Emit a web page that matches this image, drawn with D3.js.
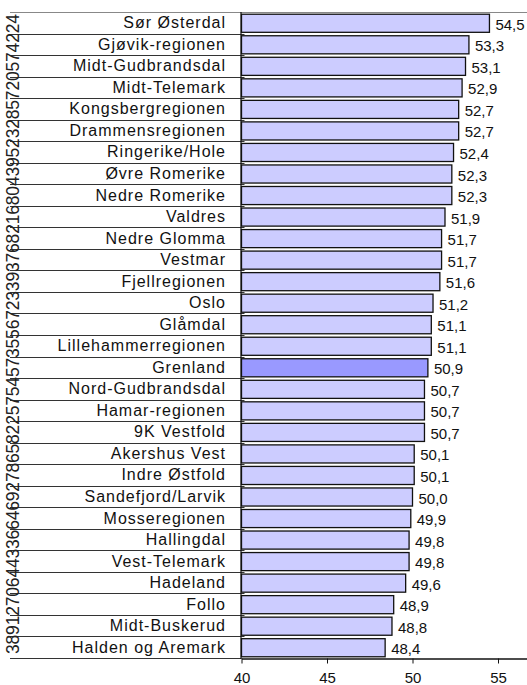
<!DOCTYPE html>
<html>
<head>
<meta charset="utf-8">
<script src="https://cdn.jsdelivr.net/npm/d3@7"></script>
<style>
  html, body { margin: 0; padding: 0; background: #fff; }
  svg { display: block; font-family: "Liberation Sans", Arial, sans-serif; }
</style>
</head>
<body>
<div id="chart"></div>
<script>
const regions = ["Sør Østerdal", "Gjøvik-regionen", "Midt-Gudbrandsdal", "Midt-Telemark",
    "Kongsbergregionen", "Drammensregionen", "Ringerike/Hole", "Øvre Romerike", "Nedre Romerike",
    "Valdres", "Nedre Glomma", "Vestmar", "Fjellregionen", "Oslo", "Glåmdal", "Lillehammerregionen",
    "Grenland", "Nord-Gudbrandsdal", "Hamar-regionen", "9K Vestfold", "Akershus Vest", "Indre Østfold",
    "Sandefjord/Larvik", "Mosseregionen", "Hallingdal", "Vest-Telemark", "Hadeland", "Follo",
    "Midt-Buskerud", "Halden og Aremark"]

const values = [54.5, 53.3, 53.1, 52.9, 52.7, 52.7, 52.4, 52.3, 52.3, 51.9, 51.7, 51.7, 51.6, 51.2,
    51.1, 51.1, 50.9, 50.7, 50.7, 50.7, 50.1, 50.1, 50.0, 49.9, 49.8, 49.8, 49.6, 48.9, 48.8, 48.4]

const highlighted = ["Grenland"]

const xTicks = [40, 45, 50, 55]

// leftover code column, as it reads from top to bottom
const codeColumn = "4224750275823259340861286739332765537545752285687296466334460721983"

const chartW = 527,
    chartH = 685,
    plotTop = 12,
    plotBottom = 658,
    axisX = 241.5,
    labelRight = 226;

const data = regions.map((r, i) => ({ region: r, value: values[i] }))

const svg = d3.select("#chart").append("svg")
    .attr("width", chartW)
    .attr("height", chartH)

const x = d3.scaleLinear().domain([40, 57]).range([axisX, axisX + 17 * 17.1])

const row = d3.scaleBand().domain(regions).range([plotTop, plotBottom]).padding(0)

const y = d3.scaleBand().domain(regions).range([plotTop, plotBottom]).paddingInner(0.16).paddingOuter(0.08)

const fmt = v => d3.format(".1f")(v).replace(".", ",")

// top border line
svg.append("line")
    .attr("x1", 10).attr("x2", chartW)
    .attr("y1", plotTop + 0.5).attr("y2", plotTop + 0.5)
    .attr("stroke", "#888").attr("stroke-width", 1)

// row lines of the label table
svg.selectAll(".rowline").data(regions.slice(1)).enter().append("line")
    .attr("class", "rowline")
    .attr("x1", 10).attr("x2", axisX + 3)
    .attr("y1", d => Math.round(row(d)) + 0.5)
    .attr("y2", d => Math.round(row(d)) + 0.5)
    .attr("stroke", "#333").attr("stroke-width", 1)

svg.append("line")
    .attr("x1", 10).attr("x2", axisX)
    .attr("y1", plotBottom + 0.5).attr("y2", plotBottom + 0.5)
    .attr("stroke", "#333")

// vertical code column (clipped to the table)
svg.append("clipPath").attr("id", "codeclip")
    .append("rect").attr("x", 0).attr("y", plotTop).attr("width", 30).attr("height", plotBottom - plotTop)

svg.append("g").attr("clip-path", "url(#codeclip)")
    .append("text")
    .attr("transform", `translate(18.5,${plotBottom - 4}) rotate(-90)`)
    .attr("font-size", 17.5)
    .attr("fill", "#222")
    .attr("textLength", plotBottom - plotTop - 6)
    .attr("lengthAdjust", "spacing")
    .text(codeColumn.split("").reverse().join(""))

// region labels
svg.selectAll(".label").data(data).enter().append("text")
    .attr("class", "label")
    .attr("x", labelRight)
    .attr("y", d => row(d.region) + row.bandwidth() / 2 + 5.5)
    .attr("text-anchor", "end")
    .attr("font-size", 16)
    .attr("letter-spacing", 1)
    .attr("fill", "#111")
    .text(d => d.region)

// bars
svg.selectAll(".bar").data(data).enter().append("rect")
    .attr("class", "bar")
    .attr("x", x(40))
    .attr("y", d => y(d.region) + 0.5)
    .attr("width", d => x(d.value) - x(40))
    .attr("height", y.bandwidth())
    .attr("fill", d => highlighted.includes(d.region) ? "#9999ff" : "#ccccff")
    .attr("stroke", "#111")
    .attr("stroke-width", 1.3)

// value labels
svg.selectAll(".value").data(data).enter().append("text")
    .attr("class", "value")
    .attr("x", d => x(d.value) + 6)
    .attr("y", d => y(d.region) + y.bandwidth() / 2 + 7)
    .attr("font-size", 15)
    .attr("fill", "#111")
    .text(d => fmt(d.value))

// y axis line
svg.append("line")
    .attr("x1", axisX - 0.5).attr("x2", axisX - 0.5)
    .attr("y1", plotTop).attr("y2", plotBottom + 1)
    .attr("stroke", "#111").attr("stroke-width", 1.2)

// x axis
const xAxis = svg.append("g")
    .attr("transform", `translate(0,${plotBottom + 0.5})`)
    .call(d3.axisBottom(x).tickValues(xTicks).tickSize(5).tickSizeOuter(0).tickPadding(9))

xAxis.select(".domain").attr("stroke", "#111").attr("stroke-width", 1.3)
xAxis.selectAll(".tick line").attr("stroke", "#111")
xAxis.selectAll(".tick text")
    .attr("font-family", "Liberation Sans, Arial, sans-serif")
    .attr("font-size", 15)
    .attr("fill", "#111")
</script>
</body>
</html>
